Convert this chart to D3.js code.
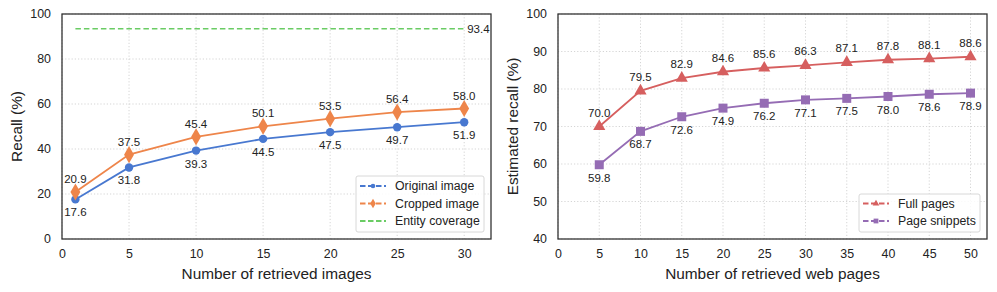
<!DOCTYPE html>
<html>
<head>
<meta charset="utf-8">
<script src="https://cdn.jsdelivr.net/npm/d3@7"></script>
<style>
  body { margin: 0; background: #fff; }
  svg { display: block; font-family: "Liberation Sans", Arial, sans-serif; }
</style>
</head>
<body>
<svg id="chart" width="997" height="292"></svg>
<script>
// left panel data
const imgX = [1, 5, 10, 15, 20, 25, 30];
const originalImage = [17.6, 31.8, 39.3, 44.5, 47.5, 49.7, 51.9];
const croppedImage = [20.9, 37.5, 45.4, 50.1, 53.5, 56.4, 58.0];
const entityCoverage = 93.4;
const imgXTicks = [0, 5, 10, 15, 20, 25, 30];
const imgYTicks = [0, 20, 40, 60, 80, 100];

// right panel data
const pageX = [5, 10, 15, 20, 25, 30, 35, 40, 45, 50];
const fullPages = [70.0, 79.5, 82.9, 84.6, 85.6, 86.3, 87.1, 87.8, 88.1, 88.6];
const pageSnippets = [59.8, 68.7, 72.6, 74.9, 76.2, 77.1, 77.5, 78.0, 78.6, 78.9];
const pageXTicks = [0, 5, 10, 15, 20, 25, 30, 35, 40, 45, 50];
const pageYTicks = [40, 50, 60, 70, 80, 90, 100];

const svg = d3.select('#chart');

const colors = {
  blue: '#4878d0', orange: '#ee854a', green: '#6acc64',
  red: '#d65f5f', purple: '#956cb4'
};

function drawPanel(opts) {
  const g = svg.append('g');
  const x = d3.scaleLinear().domain(opts.xDomain).range([opts.left, opts.right]);
  const y = d3.scaleLinear().domain(opts.yDomain).range([opts.bottom, opts.top]);

  // grid
  g.append('g').selectAll('line.gx')
    .data(opts.xTicks).enter().append('line')
    .attr('x1', d => x(d)).attr('x2', d => x(d))
    .attr('y1', opts.top).attr('y2', opts.bottom)
    .attr('stroke', '#d0d0d0').attr('stroke-width', 0.9)
    .attr('stroke-dasharray', '1.2,2');
  g.append('g').selectAll('line.gy')
    .data(opts.yTicks).enter().append('line')
    .attr('x1', opts.left).attr('x2', opts.right)
    .attr('y1', d => y(d)).attr('y2', d => y(d))
    .attr('stroke', '#d0d0d0').attr('stroke-width', 0.9)
    .attr('stroke-dasharray', '1.2,2');

  // axes (labels only, frame drawn separately)
  const xAxis = g.append('g')
    .attr('transform', `translate(0,${opts.bottom})`)
    .call(d3.axisBottom(x).tickValues(opts.xTicks).tickSize(0).tickPadding(10));
  const yAxis = g.append('g')
    .attr('transform', `translate(${opts.left},0)`)
    .call(d3.axisLeft(y).tickValues(opts.yTicks).tickSize(0).tickPadding(11));
  [xAxis, yAxis].forEach(a => {
    a.select('.domain').remove();
    a.selectAll('text').attr('font-size', 12.4).attr('fill', '#222')
      .attr('font-family', '"Liberation Sans", Arial, sans-serif');
  });

  // frame
  g.append('rect')
    .attr('x', opts.left).attr('y', opts.top)
    .attr('width', opts.right - opts.left).attr('height', opts.bottom - opts.top)
    .attr('fill', 'none').attr('stroke', '#333').attr('stroke-width', 1.3);

  // titles
  g.append('text')
    .attr('x', (opts.left + opts.right) / 2).attr('y', opts.bottom + 40)
    .attr('text-anchor', 'middle').attr('font-size', 15.4).attr('fill', '#222')
    .text(opts.xTitle);
  g.append('text')
    .attr('transform', `translate(${opts.yTitleX},${(opts.top + opts.bottom) / 2}) rotate(-90)`)
    .attr('text-anchor', 'middle').attr('dominant-baseline', 'central')
    .attr('font-size', 15.4).attr('fill', '#222')
    .text(opts.yTitle);

  return { g, x, y };
}

function marker(sel, shape, cx, cy, color, size) {
  if (shape === 'circle') {
    sel.append('circle').attr('cx', cx).attr('cy', cy).attr('r', size).attr('fill', color);
  } else {
    const sym = { diamond: d3.symbolDiamond, triangle: d3.symbolTriangle, square: d3.symbolSquare }[shape];
    sel.append('path').attr('d', d3.symbol().type(sym).size(size * size * 4)())
      .attr('transform', `translate(${cx},${cy})`).attr('fill', color);
  }
}

function drawSeries(panel, xs, ys, color, shape, size, labelDy) {
  const { g, x, y } = panel;
  g.append('path')
    .datum(xs.map((d, i) => [d, ys[i]]))
    .attr('fill', 'none').attr('stroke', color).attr('stroke-width', 1.8)
    .attr('d', d3.line().x(d => x(d[0])).y(d => y(d[1])));
  const pts = g.append('g');
  xs.forEach((d, i) => marker(pts, shape, x(d), y(ys[i]), color, size));
  g.append('g').selectAll('text')
    .data(xs).enter().append('text')
    .attr('x', d => x(d)).attr('y', (d, i) => y(ys[i]) + labelDy)
    .attr('text-anchor', 'middle').attr('font-size', 11.5).attr('fill', '#222')
    .text((d, i) => ys[i].toFixed(1));
}

function legend(panel, box, items) {
  const { g } = panel;
  const lg = g.append('g');
  lg.append('rect')
    .attr('x', box.x).attr('y', box.y).attr('width', box.w).attr('height', box.h)
    .attr('rx', 2).attr('fill', '#fff').attr('fill-opacity', 0.85)
    .attr('stroke', '#d8d8d8').attr('stroke-width', 1);
  items.forEach((it, i) => {
    const cy = box.y + box.first + i * box.step;
    lg.append('line')
      .attr('x1', box.x + 4).attr('x2', box.x + 30).attr('y1', cy).attr('y2', cy)
      .attr('stroke', it.color).attr('stroke-width', 1.8)
      .attr('stroke-dasharray', '5.5,2.5');
    if (it.shape) marker(lg, it.shape, box.x + 17, cy, it.color, it.size);
    lg.append('text')
      .attr('x', box.x + 39).attr('y', cy).attr('dominant-baseline', 'central')
      .attr('font-size', 12.3).attr('fill', '#222').text(it.label);
  });
}

// left panel
const left = drawPanel({
  left: 62, right: 491, top: 14, bottom: 239,
  xDomain: [0, 32], yDomain: [0, 100],
  xTicks: imgXTicks, yTicks: imgYTicks,
  xTitle: 'Number of retrieved images', yTitle: 'Recall (%)', yTitleX: 16
});
left.g.append('line')
  .attr('x1', left.x(imgX[0])).attr('x2', left.x(imgX[imgX.length - 1]))
  .attr('y1', left.y(entityCoverage)).attr('y2', left.y(entityCoverage))
  .attr('stroke', colors.green).attr('stroke-width', 1.5)
  .attr('stroke-dasharray', '5.5,3');
left.g.append('text')
  .attr('x', left.x(imgX[imgX.length - 1]) + 3).attr('y', left.y(entityCoverage))
  .attr('dominant-baseline', 'central').attr('font-size', 11.5).attr('fill', '#222')
  .text(entityCoverage.toFixed(1));
drawSeries(left, imgX, originalImage, colors.blue, 'circle', 4.2, 17);
drawSeries(left, imgX, croppedImage, colors.orange, 'diamond', 4.6, -9);
legend(left, { x: 356, y: 176, w: 128, h: 56, first: 10, step: 17.5 }, [
  { label: 'Original image', color: colors.blue, shape: 'circle', size: 2.3 },
  { label: 'Cropped image', color: colors.orange, shape: 'diamond', size: 2.6 },
  { label: 'Entity coverage', color: colors.green }
]);

// right panel
const right = drawPanel({
  left: 558, right: 987, top: 14, bottom: 239,
  xDomain: [0, 52], yDomain: [40, 100],
  xTicks: pageXTicks, yTicks: pageYTicks,
  xTitle: 'Number of retrieved web pages', yTitle: 'Estimated recall (%)', yTitleX: 512
});
drawSeries(right, pageX, fullPages, colors.red, 'triangle', 4, -10);
drawSeries(right, pageX, pageSnippets, colors.purple, 'square', 4.5, 17);
legend(right, { x: 859, y: 194, w: 121, h: 38, first: 9.5, step: 17.5 }, [
  { label: 'Full pages', color: colors.red, shape: 'triangle', size: 2.2 },
  { label: 'Page snippets', color: colors.purple, shape: 'square', size: 2.4 }
]);
</script>
</body>
</html>
